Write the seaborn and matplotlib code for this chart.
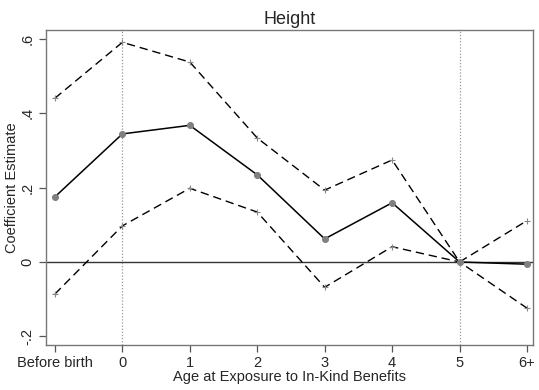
import matplotlib
matplotlib.use("Agg")
import matplotlib.pyplot as plt
import seaborn as sns
import pandas as pd
import numpy as np

categories = ["Before birth", "0", "1", "2", "3", "4", "5", "6+"]
estimate = [0.175, 0.344, 0.367, 0.234, 0.062, 0.159, 0.0, -0.006]
upper = [0.440, 0.590, 0.537, 0.333, 0.193, 0.274, 0.0, 0.111]
lower = [-0.086, 0.097, 0.198, 0.134, -0.068, 0.041, 0.0, -0.124]
yticks = [-0.2, 0.0, 0.2, 0.4, 0.6]
ytick_labels = ["-.2", "0", ".2", ".4", ".6"]

sns.set_style("white")
plt.rcParams['font.family'] = ['Liberation Sans', 'DejaVu Sans']

df = pd.DataFrame({"pos": np.arange(len(categories)), "est": estimate, "up": upper, "lo": lower})

fig = plt.figure(figsize=(5.39, 3.9), dpi=100)
ax = fig.add_axes([0.0853, 0.1154, 0.9037, 0.8076])

ax.axhline(0, color="#333333", lw=1.0, zorder=1)
for c in ["0", "5"]:
    ax.axvline(categories.index(c), color="#999999", lw=0.9, ls=(0, (1, 1.5)), zorder=1)

sns.lineplot(data=df, x="pos", y="up", ax=ax, color="black", lw=1.0, marker="+",
             markersize=4, markeredgecolor="#888888", markeredgewidth=0.8, zorder=3)
sns.lineplot(data=df, x="pos", y="lo", ax=ax, color="black", lw=1.0, marker="+",
             markersize=4, markeredgecolor="#888888", markeredgewidth=0.8, zorder=3)
for l in ax.lines[-2:]:
    l.set_dashes([6, 3.5])
sns.lineplot(data=df, x="pos", y="est", ax=ax, color="black", lw=1.1, marker="o",
             markersize=4.3, markerfacecolor="#808080", markeredgecolor="#808080", zorder=4)

ax.set_xlim(-0.133, 7.09)
ax.set_ylim(-0.223, 0.623)
ax.set_xticks(df["pos"])
ax.set_xticklabels(categories, fontsize=10.5)
ax.set_yticks(yticks)
ax.set_yticklabels(ytick_labels, fontsize=10.5, rotation=90, va="center")
ax.tick_params(axis="both", direction="out", length=5, width=0.9, color="#555555", bottom=True, left=True, pad=3)
ax.set_xlabel("Age at Exposure to In-Kind Benefits", fontsize=10.5, labelpad=0)
ax.set_ylabel("Coefficient Estimate", fontsize=10.5)
ax.yaxis.set_label_coords(-0.056, 0.5)
ax.set_title("Height", fontsize=13, pad=4)
for s in ax.spines.values():
    s.set_color("#777777")
    s.set_linewidth(1.0)

fig.savefig("out.png", dpi=100)
